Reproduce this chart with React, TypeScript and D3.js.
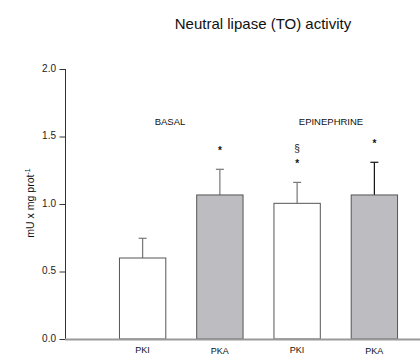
import React from "react";
import * as d3 from "d3";

const categories = ["PKI", "PKA", "PKI", "PKA"];
const means = [0.6, 1.067, 1.005, 1.067];
const errors = [0.146, 0.19, 0.155, 0.242];
const fills = ["#ffffff", "#bdbdc1", "#ffffff", "#bdbdc1"];
const errColors = ["#777777", "#777777", "#777777", "#111111"];
const marks = [[], ["*"], ["*", "§"], ["*"]];
const yTicks = [0, 0.5, 1.0, 1.5, 2.0];
const groups = [
  { label: "BASAL", x: 170 },
  { label: "EPINEPHRINE", x: 331 },
];

export default function App() {
  const W = 420, H = 354;
  const y = d3.scaleLinear().domain([0, 2]).range([339, 69]);
  const x = d3.scaleBand().domain(d3.range(categories.length).map(String)).range([104, 413]).paddingInner(0.4).paddingOuter(0.2);
  const bw = x.bandwidth();
  const font = "Liberation Sans, Arial, sans-serif";
  return (
    <svg width={W} height={H} style={{ position: "absolute", left: 0, top: 0 }} fontFamily={font}>
      <rect width={W} height={H} fill="#fff" />
      <text x={263} y={28.5} fontSize={15} textAnchor="middle" fill="#111">Neutral lipase (TO) activity</text>
      <line x1={65.5} x2={65.5} y1={y(2)} y2={y(0)} stroke="#333" strokeWidth={1} />
      {yTicks.map((t) => (
        <g key={t}>
          <line x1={59.5} x2={65.5} y1={y(t) + 0.5} y2={y(t) + 0.5} stroke="#333" />
          <text x={56} y={y(t) + 2.5} fontSize={10} textAnchor="end" fill="#222">{t.toFixed(1)}</text>
        </g>
      ))}
      <text transform={`translate(34,${203}) rotate(-90)`} fontSize={10.5} textAnchor="middle" fill="#111">
        mU x mg prot<tspan dy={-4} fontSize={7}>-1</tspan>
      </text>
      {groups.map((g) => (
        <text key={g.label} x={g.x} y={125} fontSize={9.5} textAnchor="middle" fill="#111">{g.label}</text>
      ))}
      {means.map((m, i) => {
        const bx = x(String(i))!;
        const cx = bx + bw / 2;
        const top = y(m + errors[i]);
        return (
          <g key={i}>
            <line x1={cx} x2={cx} y1={y(m)} y2={top} stroke={errColors[i]} strokeWidth={1.2} />
            <line x1={cx - 4} x2={cx + 4} y1={top} y2={top} stroke={errColors[i]} strokeWidth={1.2} />
            <rect x={bx} y={y(m)} width={bw} height={y(0) - y(m)} fill={fills[i]} stroke="#555" strokeWidth={1} />
            {marks[i].map((mk, j) => (
              <text key={j} x={cx} y={mk === "*" ? top - 15 : top - 30.5} fontSize={10} textAnchor="middle" fill="#111" fontWeight={mk === "*" ? "bold" : "normal"}>{mk}</text>
            ))}
            <text x={cx} y={i % 2 === 0 ? 352.5 : 353.5} fontSize={9} textAnchor="middle" fill="#111">{categories[i]}</text>
          </g>
        );
      })}
      <line x1={65} x2={420} y1={339.5} y2={339.5} stroke="#999" strokeWidth={2} />
    </svg>
  );
}
